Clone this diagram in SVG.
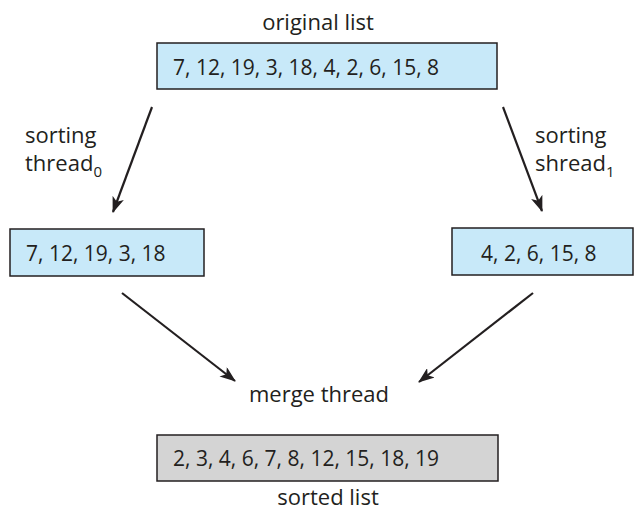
<svg xmlns="http://www.w3.org/2000/svg" width="636" height="510" viewBox="0 0 636 510">
<style>
text{font-family:"Open Sans","Noto Sans",sans-serif;fill:#231f20;font-size:21px}
.lbl{font-size:22px}
.blue{fill:#c8e9f9;stroke:#231f20;stroke-width:1.5}
.gray{fill:#d4d4d4;stroke:#231f20;stroke-width:1.5}
.edge{stroke:#231f20;stroke-width:2.2;fill:none;marker-end:url(#ah)}
.sub{font-size:15px}
</style>
<defs>
<marker id="ah" markerUnits="userSpaceOnUse" markerWidth="16" markerHeight="12" viewBox="0 0 16 12" refX="15" refY="6" orient="auto">
<path d="M0,0 L16,6 L0,12 L4,6 Z" fill="#231f20"/>
</marker>
</defs>
<rect width="636" height="510" fill="#ffffff"/>
<g id="original">
<text class="lbl" x="318" y="30" text-anchor="middle">original list</text>
<rect class="blue" x="157" y="43" width="340" height="46"/>
<text x="173" y="75">7, 12, 19, 3, 18, 4, 2, 6, 15, 8</text>
</g>
<g id="left">
<rect class="blue" x="10" y="229" width="194" height="47"/>
<text x="26" y="261">7, 12, 19, 3, 18</text>
</g>
<g id="right">
<rect class="blue" x="452" y="228" width="181" height="47"/>
<text x="481" y="261">4, 2, 6, 15, 8</text>
</g>
<g id="merge">
<text class="lbl" x="319" y="402" text-anchor="middle">merge thread</text>
</g>
<g id="sorted">
<rect class="gray" x="157" y="435" width="341" height="46"/>
<text x="173" y="466">2, 3, 4, 6, 7, 8, 12, 15, 18, 19</text>
<text class="lbl" x="328" y="505" text-anchor="middle">sorted list</text>
</g>
<g id="connectors">
<path class="edge" d="M152,107 L113,212"/>
<path class="edge" d="M503,107 L542,211"/>
<path class="edge" d="M122,293 L235,381"/>
<path class="edge" d="M533,293 L419,382"/>
<text class="lbl" x="25" y="143">sorting</text>
<text class="lbl" x="25" y="171">thread<tspan class="sub" dy="6">0</tspan></text>
<text class="lbl" x="535" y="143">sorting</text>
<text class="lbl" x="535" y="171">shread<tspan class="sub" dy="6">1</tspan></text>
</g>
</svg>
